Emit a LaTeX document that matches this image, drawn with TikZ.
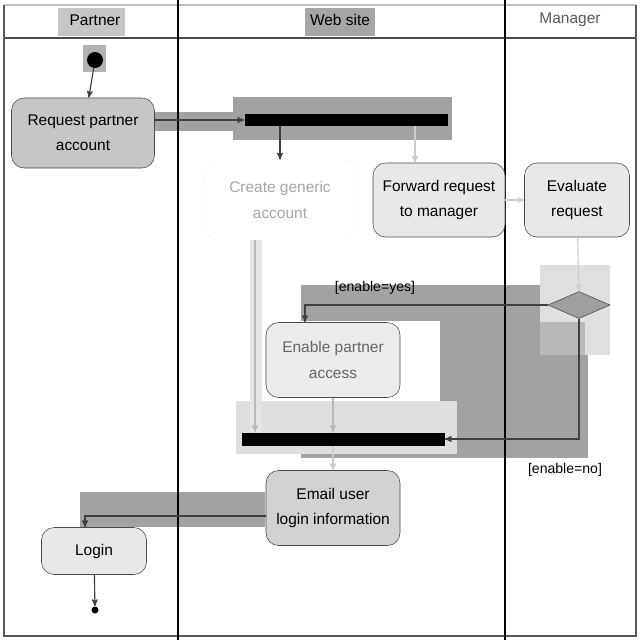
\documentclass[tikz,border=0pt]{standalone}
\usepackage{fontspec}
\setmainfont{Liberation Sans}
\usetikzlibrary{arrows,shapes,positioning,calc}
\newcommand{\px}{0.025cm}
\definecolor{hlgray}{HTML}{A2A2A2}
\definecolor{hllight}{HTML}{DEDEDE}
\tikzset{
  action/.style={rectangle, rounded corners=9pt, draw=gray!60!black, fill=gray!22,
    align=center, font=\fontsize{11}{18}\selectfont, inner sep=0pt},
  faded/.style={draw=gray!30, dotted, fill=white, text=gray!70},
  bar/.style={rectangle, fill=black, inner sep=0pt},
  flow/.style={->, >=stealth', draw=black!75, thick},
  lightflow/.style={->, >=stealth', draw=gray!40, thick},
  guard/.style={font=\fontsize{10}{12}\selectfont},
  lanehead/.style={font=\fontsize{11}{13}\selectfont, inner sep=1pt}
}
\begin{document}
\begin{tikzpicture}[x=\px, y=-\px]
\useasboundingbox (0,0) rectangle (640,640);
\fill[white] (0,0) rectangle (640,640);

% highlight patches
\fill[gray!45] (58,8) rectangle (125,36);
\fill[gray!70] (305,8) rectangle (375,36);
\fill[gray!60] (83,45) rectangle (106,72);
\fill[hlgray] (155,112) rectangle (245,131);
\fill[hlgray] (233,97) rectangle (452,140);
\fill[hlgray] (301,285) rectangle (588,458);
\fill[gray!25] (540,265) rectangle (610,355);
\fill[gray!55] (540,322) rectangle (585,355);
\fill[white] (266,321) rectangle (440,401);
\fill[hllight] (236,401) rectangle (457,454);
\fill[hlgray] (80,492) rectangle (265,527);
\fill[gray!20] (250,240) rectangle (262,432);

% swimlanes
\draw[gray!50, thick] (4,5) -- (636,5);
\draw[gray!60!black, thick] (4,38) -- (636,38);
\draw[gray!70!black, thick] (4,5) -- (4,636) -- (636,636) -- (636,5);
\draw[black, thick] (178,0) -- (178,640);
\draw[black, thick] (505,0) -- (505,640);

\node[lanehead] (hpartner) at (95,20) {Partner};
\node[lanehead] (hweb) at (340,20) {Web site};
\node[lanehead, text=gray!70!black] (hmanager) at (570,20) {Manager};

% nodes
\node[circle, fill=black, minimum size=16*\px, inner sep=0pt] (start) at (95,60) {};
\node[action, fill=gray!45, minimum width=143*\px, minimum height=70*\px] (req) at (83,133) {Request partner\\account};
\node[bar, minimum width=203*\px, minimum height=12*\px] (fork) at (346,120) {};
\node[action, faded, minimum width=150*\px, minimum height=80*\px] (create) at (280,200) {Create generic\\account};
\node[action, fill=gray!18, minimum width=132*\px, minimum height=74*\px] (fwd) at (439,200) {Forward request\\to manager};
\node[action, fill=gray!18, minimum width=105*\px, minimum height=74*\px] (eval) at (577,200) {Evaluate\\request};
\node[diamond, fill=gray!75, draw=gray!60!black, minimum width=62*\px, minimum height=27*\px, inner sep=0pt] (dec) at (579,305) {};
\node[action, fill=gray!15, text=gray!80!black, minimum width=134*\px, minimum height=75*\px] (enable) at (333,360) {Enable partner\\access};
\node[bar, minimum width=203*\px, minimum height=13*\px] (join) at (343,439) {};
\node[action, fill=gray!35, minimum width=134*\px, minimum height=75*\px] (email) at (333,508) {Email user\\login information};
\node[action, fill=gray!18, minimum width=105*\px, minimum height=47*\px] (login) at (94,551) {Login};
\node[circle, fill=black, minimum size=7*\px, inner sep=0pt] (stop) at (95,610) {};

% connectors
\draw[flow] (start) -- (req);
\draw[flow] (req.east |- fork.west) -- (fork.west);
\draw[flow] (create |- fork.south) -- (create.north);
\draw[lightflow] ([xshift=-24*\px]fwd.north |- fork.south) -- ([xshift=-24*\px]fwd.north);
\draw[lightflow] (fwd) -- (eval);
\draw[lightflow] (eval) -- (dec);
\draw[flow] (dec.west) -| ([xshift=-28*\px]enable.north);
\draw[flow] (dec.south) |- (join.east);
\draw[lightflow, draw=gray!55] ([xshift=-25*\px]create.south) -- ([xshift=-25*\px]create.south |- join.north);
\draw[lightflow, draw=gray!55] (enable) -- (enable |- join.north);
\draw[lightflow] (email |- join.south) -- (email.north);
\draw[flow] ([yshift=-8*\px]email.west) -| ([xshift=-9*\px]login.north);
\draw[flow] (login) -- (stop);

\node[guard] (gyes) at (375,288) {[enable=yes]};
\node[guard] (gno) at (565,470) {[enable=no]};
\end{tikzpicture}
\end{document}
